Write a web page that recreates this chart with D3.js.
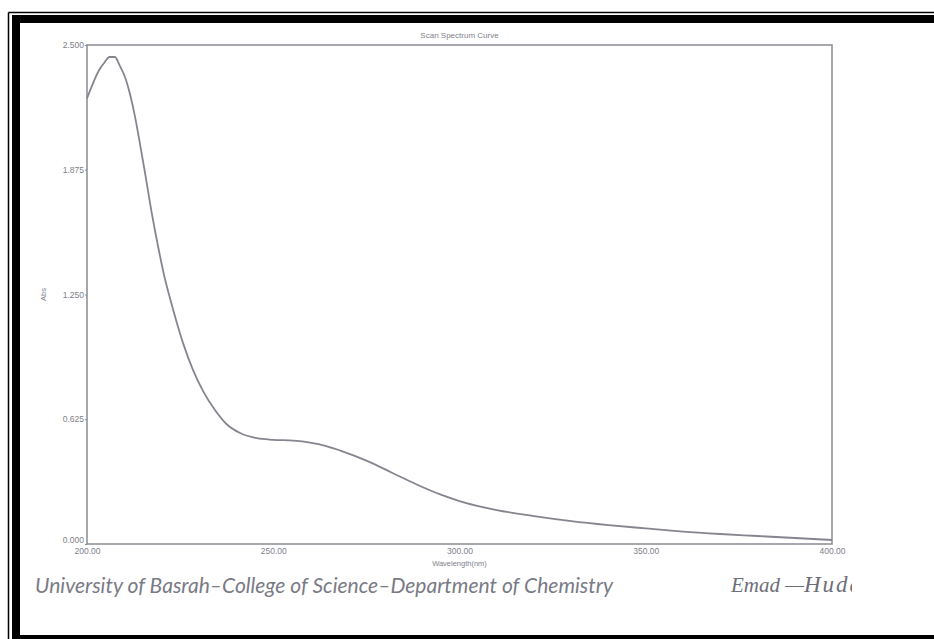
<!DOCTYPE html>
<html><head><meta charset="utf-8">
<script src="https://cdn.jsdelivr.net/npm/d3@7"></script>
<style>body{margin:0;background:#fff}svg{display:block}</style>
</head><body>
<script>
const wavelength = [200, 203.5, 204.8, 206, 207.5, 208.7, 210.2, 211.5, 212.9, 214.2, 215.6, 217.4, 219.1, 220.9, 222.3, 224.1, 225.9, 228.5, 231.2, 234.4, 237.5, 241.1, 245.6, 250, 255.4, 259.9, 264, 268, 275, 282, 288.5, 295, 300, 310, 320, 330, 340, 350, 360, 370, 380, 390, 400];
const absorbance = [2.232, 2.382, 2.415, 2.44, 2.44, 2.40, 2.34, 2.257, 2.14, 2.007, 1.857, 1.656, 1.489, 1.33, 1.23, 1.11, 1.0, 0.87, 0.765, 0.67, 0.6, 0.556, 0.53, 0.522, 0.518, 0.508, 0.492, 0.468, 0.418, 0.356, 0.298, 0.247, 0.215, 0.17, 0.14, 0.115, 0.095, 0.078, 0.062, 0.05, 0.04, 0.03, 0.02];
const xTicks = [200, 250, 300, 350, 400];
const yTicks = [0, 0.625, 1.25, 1.875, 2.5];
const chartTitle = "Scan Spectrum Curve";
const xTitle = "Wavelength(nm)";
const yTitle = "Abs";
const footer = "University of Basrah\u2013College of Science\u2013Department of Chemistry";
const signatureA = "Emad \u2014";
const signatureB = "Huda";

const W = 934, H = 639;
const svg = d3.select("body").append("svg").attr("width", W).attr("height", H);

// page frame
svg.append("line").attr("x1", 8.5).attr("y1", 12.5).attr("x2", W).attr("y2", 12.5).attr("stroke", "#000").attr("stroke-width", 1.5);
svg.append("line").attr("x1", 8.5).attr("y1", 12.5).attr("x2", 8.5).attr("y2", H).attr("stroke", "#000").attr("stroke-width", 1.5);
svg.append("rect").attr("x", 12).attr("y", 15).attr("width", W - 12).attr("height", 8).attr("fill", "#000");
svg.append("rect").attr("x", 12).attr("y", 15).attr("width", 8).attr("height", H - 15).attr("fill", "#000");
svg.append("rect").attr("x", 12).attr("y", 635).attr("width", W - 12).attr("height", 4).attr("fill", "#000");

const L = 87, R = 832, T = 45, B = 544;
const x = d3.scaleLinear().domain([200, 400]).range([L, R]);
const y = d3.scaleLinear().domain([0, 2.5]).range([B, T]);
const grey = "#8a8a94", txt = "#80808a";

svg.append("rect").attr("x", L).attr("y", T).attr("width", R - L).attr("height", B - T)
  .attr("fill", "none").attr("stroke", grey).attr("stroke-width", 1.5);

const yAxis = svg.append("g").attr("transform", `translate(${L},0)`)
  .call(d3.axisLeft(y).tickValues(yTicks).tickFormat(d3.format(".3f")).tickSize(2).tickPadding(1));
const xAxis = svg.append("g").attr("transform", `translate(0,${B})`)
  .call(d3.axisBottom(x).tickValues(xTicks).tickFormat(d3.format(".2f")).tickSize(0).tickPadding(4));
[yAxis, xAxis].forEach(g => {
  g.select(".domain").remove();
  g.selectAll("line").attr("stroke", grey);
  g.selectAll("text").attr("fill", txt).attr("font-family", "Liberation Sans, Arial, sans-serif").attr("font-size", 8.5);
});
yAxis.selectAll(".tick").filter(d => d === 0).select("text").attr("dy", "-0.2em");

svg.append("text").attr("x", (L + R) / 2).attr("y", 38).attr("text-anchor", "middle")
  .attr("font-family", "Liberation Sans, Arial, sans-serif").attr("font-size", 8).attr("fill", txt).text(chartTitle);
svg.append("text").attr("x", (L + R) / 2).attr("y", 566).attr("text-anchor", "middle")
  .attr("font-family", "Liberation Sans, Arial, sans-serif").attr("font-size", 7.5).attr("fill", txt).text(xTitle);
svg.append("text").attr("transform", `translate(46,${(T + B) / 2}) rotate(-90)`).attr("text-anchor", "middle")
  .attr("font-family", "Liberation Sans, Arial, sans-serif").attr("font-size", 7.5).attr("fill", txt).text(yTitle);

const line = d3.line().x((d, i) => x(wavelength[i])).y(d => y(d)).curve(d3.curveMonotoneX);
svg.append("path").datum(absorbance).attr("d", line).attr("fill", "none")
  .attr("stroke", "#85858f").attr("stroke-width", 1.8).attr("stroke-linejoin", "round");

svg.append("text").attr("x", 35).attr("y", 593).attr("font-family", "Lato, Open Sans, sans-serif")
  .attr("font-style", "italic").attr("font-size", 21).attr("fill", "#7a7a85")
  .attr("textLength", 578).attr("lengthAdjust", "spacingAndGlyphs").text(footer);

svg.append("clipPath").attr("id", "sigclip").append("rect").attr("x", 700).attr("y", 560).attr("width", 152).attr("height", 50);
const sig = svg.append("text").attr("x", 731).attr("y", 592).attr("clip-path", "url(#sigclip)")
  .attr("font-family", "Liberation Serif, serif").attr("font-style", "italic").attr("font-size", 21)
  .attr("fill", "#6e6e78");
sig.append("tspan").text(signatureA);
sig.append("tspan").attr("font-size", 23).attr("letter-spacing", 2).text(signatureB);
</script>
</body></html>
